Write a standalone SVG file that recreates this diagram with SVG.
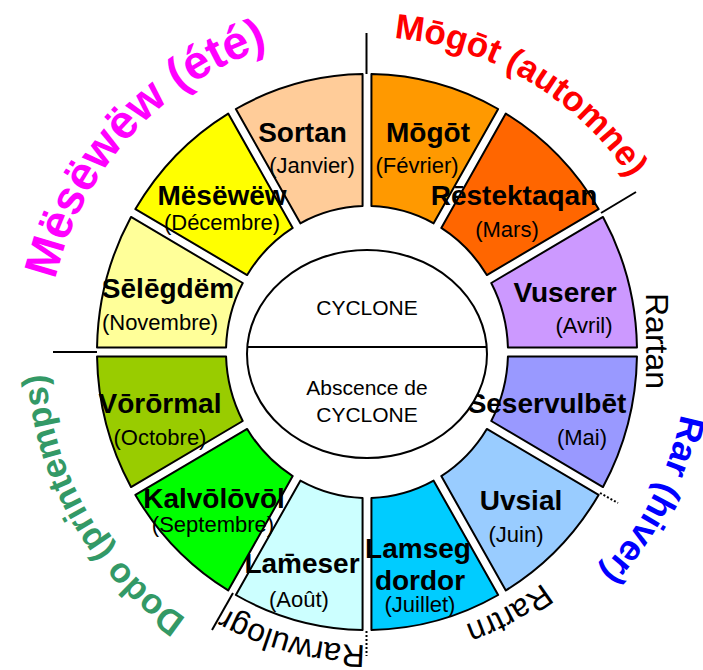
<svg xmlns="http://www.w3.org/2000/svg" width="703" height="670" viewBox="0 0 703 670">
<style>
.seg{stroke:#000;stroke-width:2;stroke-linejoin:round}
.nm{font-family:"Liberation Sans",Arial,sans-serif;font-weight:bold;font-size:28px;text-anchor:middle;fill:#000}
.mo{font-family:"Liberation Sans",Arial,sans-serif;font-size:22px;text-anchor:middle;fill:#000}
.ctr{font-family:"Liberation Sans",Arial,sans-serif;font-size:21px;text-anchor:middle;fill:#000}
.sea{font-family:"Liberation Sans",Arial,sans-serif;font-weight:bold}
.rim{font-family:"Liberation Sans",Arial,sans-serif;font-size:32px;fill:#000}
.ln{stroke:#000;stroke-width:2;fill:none}
.dot{stroke:#000;stroke-width:2;fill:none;stroke-dasharray:2 2}
</style>
<defs>
<path id="c320" d="M367,32 A320,320 0 1 1 367,672 A320,320 0 1 1 367,32"/>
<path id="c322" d="M367,30 A322,322 0 1 1 367,674 A322,322 0 1 1 367,30"/>
<path id="c315" d="M367,37 A315,315 0 1 1 367,667 A315,315 0 1 1 367,37"/>
<path id="c290" d="M367,62 A290,290 0 1 1 367,642 A290,290 0 1 1 367,62"/>
<path id="c293" d="M367,59 A293,293 0 1 1 367,645 A293,293 0 1 1 367,59"/>
</defs>
<rect width="703" height="670" fill="#fff"/>

<g id="connectors">
<line class="ln" x1="366.5" y1="33" x2="366.5" y2="74"/>
<line class="ln" x1="601" y1="213" x2="636" y2="192"/>
<line class="ln" x1="53" y1="352" x2="97" y2="352"/>
<line class="ln" x1="233" y1="593" x2="212" y2="630"/>
<line class="dot" x1="600" y1="493" x2="618" y2="503"/>
<line class="dot" x1="366.5" y1="631" x2="366.5" y2="656"/>
</g>

<g id="sortan">
<path class="seg" fill="#FFCC99" d="M235.85,109 A270,278 0 0 1 362.57,74.04 L362.57,206.07 A141,146 0 0 0 300.37,223.33 Z"/>
<text class="nm" x="302.5" y="142">Sortan</text>
<text class="mo" x="312" y="173">(Janvier)</text>
</g>
<g id="mogot">
<path class="seg" fill="#FF9900" d="M371.43,74.04 A270,278 0 0 1 498.15,109 L433.63,223.33 A141,146 0 0 0 371.43,206.07 Z"/>
<text class="nm" x="428" y="142">Mōgōt</text>
<text class="mo" x="417" y="173">(Février)</text>
</g>
<g id="restektaqan">
<path class="seg" fill="#FF6600" d="M505.81,113.55 A270,278 0 0 1 598.59,209.08 L486.83,275.06 A141,146 0 0 0 441.3,227.92 Z"/>
<text class="nm" x="514" y="205">Rēstektaqan</text>
<text class="mo" x="507" y="237">(Mars)</text>
</g>
<g id="vuserer">
<path class="seg" fill="#CC99FF" d="M603.01,216.96 A270,278 0 0 1 636.96,347.44 L507.93,347.41 A141,146 0 0 0 491.26,283.01 Z"/>
<text class="nm" x="565" y="302">Vuserer</text>
<text class="mo" x="584" y="333">(Avril)</text>
</g>
<g id="seservulbet">
<path class="seg" fill="#9999FF" d="M636.96,356.56 A270,278 0 0 1 603.01,487.04 L491.26,420.99 A141,146 0 0 0 507.93,356.59 Z"/>
<text class="nm" x="547" y="413">Seservulbēt</text>
<text class="mo" x="582" y="445">(Mai)</text>
</g>
<g id="uvsial">
<path class="seg" fill="#99CCFF" d="M598.59,494.92 A270,278 0 0 1 505.81,590.45 L441.3,476.08 A141,146 0 0 0 486.83,428.94 Z"/>
<text class="nm" x="521" y="510">Uvsial</text>
<text class="mo" x="516" y="542">(Juin)</text>
</g>
<g id="lamseg">
<path class="seg" fill="#00CCFF" d="M498.15,595 A270,278 0 0 1 371.43,629.96 L371.43,497.93 A141,146 0 0 0 433.63,480.67 Z"/>
<text class="nm" x="418" y="558">Lamseg</text>
<text class="nm" x="420" y="590">dordor</text>
<text class="mo" x="420" y="612">(Juillet)</text>
</g>
<g id="lameser">
<path class="seg" fill="#CCFFFF" d="M362.57,629.96 A270,278 0 0 1 235.85,595 L300.37,480.67 A141,146 0 0 0 362.57,497.93 Z"/>
<text class="nm" x="302" y="573">Lam̄eser</text>
<text class="mo" x="299" y="607">(Août)</text>
</g>
<g id="kalvolovol">
<path class="seg" fill="#00FF00" d="M228.19,590.45 A270,278 0 0 1 135.41,494.92 L247.17,428.94 A141,146 0 0 0 292.7,476.08 Z"/>
<text class="nm" x="214" y="508">Kalvōlōvōl</text>
<text class="mo" x="213" y="532">(Septembre)</text>
</g>
<g id="vorormal">
<path class="seg" fill="#99CC00" d="M130.99,487.04 A270,278 0 0 1 97.04,356.56 L226.07,356.59 A141,146 0 0 0 242.74,420.99 Z"/>
<text class="nm" x="160" y="413">Vōrōrmal</text>
<text class="mo" x="160" y="445">(Octobre)</text>
</g>
<g id="selegdem">
<path class="seg" fill="#FFFF99" d="M97.04,347.44 A270,278 0 0 1 130.99,216.96 L242.74,283.01 A141,146 0 0 0 226.07,347.41 Z"/>
<text class="nm" x="168" y="298">Sēlēgdëm</text>
<text class="mo" x="160" y="330">(Novembre)</text>
</g>
<g id="mesewew">
<path class="seg" fill="#FFFF00" d="M135.41,209.08 A270,278 0 0 1 228.19,113.55 L292.7,227.92 A141,146 0 0 0 247.17,275.06 Z"/>
<text class="nm" x="222" y="205">Mësëwëw</text>
<text class="mo" x="222" y="230">(Décembre)</text>
</g>

<g id="centre">
<ellipse cx="367" cy="354" rx="120" ry="104" fill="#fff" stroke="#000" stroke-width="2"/>
<line class="ln" x1="247" y1="347" x2="487" y2="347"/>
<text class="ctr" x="367" y="315">CYCLONE</text>
<text class="ctr" x="367" y="395">Abscence de</text>
<text class="ctr" x="367" y="422">CYCLONE</text>
</g>

<g id="seasons">
<text class="sea" font-size="47" fill="#FF00FF"><textPath href="#c320" startOffset="1580">Mësëwëw (été)</textPath></text>
<text class="sea" font-size="35" fill="#FF0000"><textPath href="#c315" startOffset="27">Mōgōt (automne)</textPath></text>
<text class="sea" font-size="36" fill="#0000FF"><textPath href="#c320" startOffset="565">Rar (hiver)</textPath></text>
<text class="sea" font-size="35" fill="#339966"><textPath href="#c322" startOffset="1203">Dodo (printemps)</textPath></text>
</g>

<g id="rim-labels">
<text class="rim" transform="translate(646,293) rotate(90)">Rartan</text>
<text class="rim"><textPath href="#c290" startOffset="722">Rartrn</textPath></text>
<text class="rim"><textPath href="#c293" startOffset="922">Rarwulogr</textPath></text>
</g>
</svg>
